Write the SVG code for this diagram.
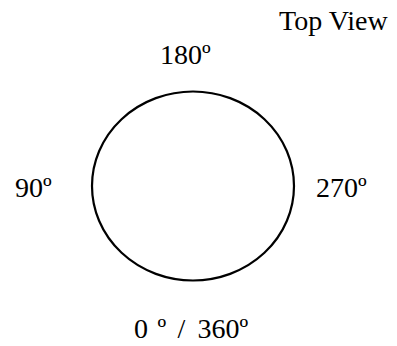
<svg xmlns="http://www.w3.org/2000/svg" width="397" height="346" viewBox="0 0 397 346">
<style>
text{font-family:"Liberation Serif","Times New Roman",serif;font-size:28px;fill:#000}
.ring{fill:none;stroke:#000;stroke-width:2.2}
</style>
<rect width="397" height="346" fill="#fff"/>
<g id="circle"><ellipse class="ring" cx="193" cy="186" rx="101" ry="94.5"/></g>
<g id="label-top-view"><text x="279" y="30">Top View</text></g>
<g id="label-180"><text x="160" y="64">180º</text></g>
<g id="label-90"><text x="15" y="197">90º</text></g>
<g id="label-270"><text x="316" y="197">270º</text></g>
<g id="label-0-360"><text y="338"><tspan x="134">0</tspan><tspan x="157.5">º</tspan><tspan x="177.5">/</tspan><tspan x="197.6">360º</tspan></text></g>
</svg>
